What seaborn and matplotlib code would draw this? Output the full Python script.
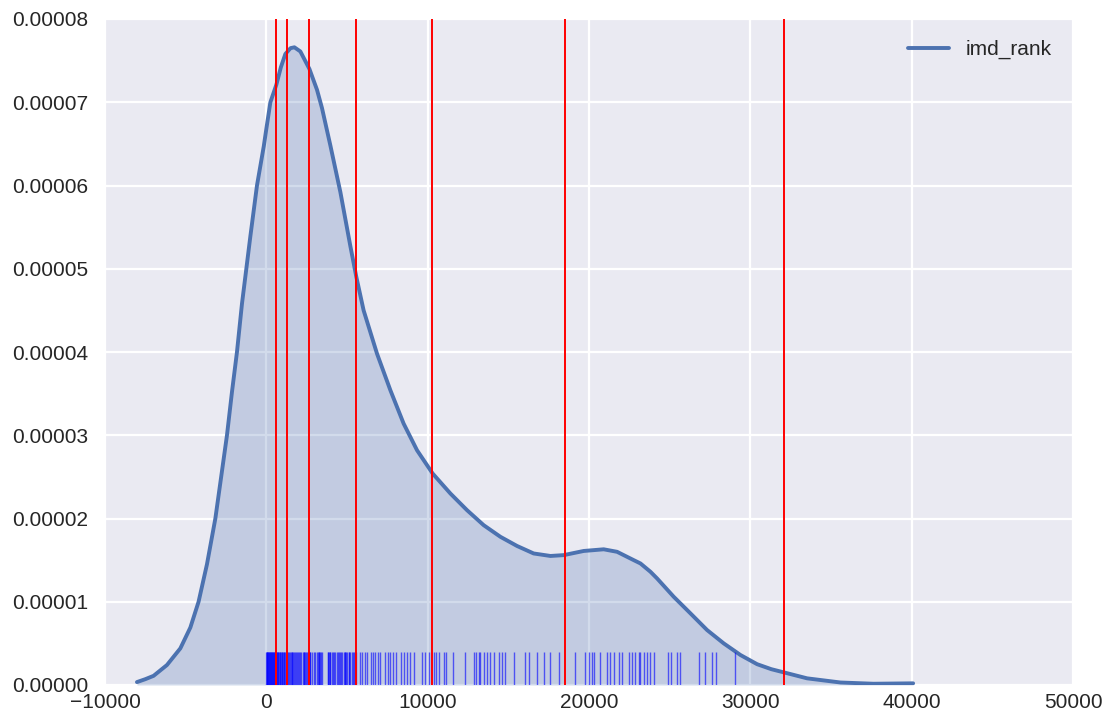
import numpy as np
import pandas as pd
import matplotlib
matplotlib.use("Agg")
import matplotlib.pyplot as plt
import seaborn as sns
from matplotlib.ticker import FormatStrFormatter

# KDE curve (x in rank units, density in units of 1e-5)
kde_x = [-8020, -7500, -6990, -6160, -5330, -4710, -4200, -3680, -3160, -2850,
         -2440, -2130, -1820, -1510, -1240, -990, -580, -160, 0, 250,
         620, 900, 1180, 1500, 1740, 2110, 2670, 3140, 3450, 3970,
         4590, 5210, 5580, 6030, 6860, 7690, 8510, 9340, 10310, 11410,
         12440, 13470, 14510, 15540, 16570, 17610, 18430, 19670, 20910, 21740,
         22770, 23190, 23810, 24220, 25250, 26290, 27320, 28350, 29390, 30420,
         31300, 32110, 33520, 35590, 37630, 40090]
kde_y_e5 = [0.035, 0.07, 0.11, 0.24, 0.44, 0.69, 1.00, 1.45, 2.00, 2.43,
            3.00, 3.52, 4.00, 4.58, 5.00, 5.39, 6.00, 6.47, 6.68, 7.00,
            7.21, 7.42, 7.58, 7.65, 7.66, 7.61, 7.40, 7.15, 6.93, 6.48,
            5.92, 5.27, 4.90, 4.50, 3.98, 3.54, 3.14, 2.82, 2.54, 2.30,
            2.10, 1.92, 1.78, 1.67, 1.58, 1.55, 1.56, 1.61, 1.63, 1.60,
            1.50, 1.46, 1.36, 1.28, 1.06, 0.86, 0.66, 0.50, 0.36, 0.25,
            0.19, 0.15, 0.08, 0.03, 0.015, 0.02]
kde_y = [v * 1e-5 for v in kde_y_e5]

rug_values = [10, 30, 50, 70, 95, 120, 150, 180, 210, 240, 270, 300, 330, 365, 400, 430,
              460, 495, 530, 560, 600, 640, 670, 710, 750, 790, 830, 870, 910, 950, 990,
              1030, 1080, 1120, 1160, 1210, 1250, 1300, 1350, 1400, 1450, 1500, 1560, 1610,
              1670, 1720, 1780, 1840, 1900, 1960, 2030, 2100, 2170,
              2250, 2310, 2360, 2400, 2470, 2520, 2580, 2620, 2680, 2730, 2830, 2930,
              3040, 3140, 3190, 3240, 3290, 3340, 3400, 3450,
              3800, 3840, 3880, 3930, 3970, 4050, 4130, 4200, 4280, 4350, 4420, 4500,
              4590, 4650, 4700, 4790, 4850, 4900, 4950, 5000, 5100, 5150, 5210, 5300,
              5350, 5410, 5500, 5580,
              5780, 5930, 6090, 6240, 6490, 6610, 6760, 6900, 7070,
              7380, 7520, 7690, 7850, 8040, 8350, 8560, 8720, 8890, 9180,
              9650, 9860, 10060, 10370, 10540, 10710, 10990, 11160, 11570,
              12340, 12850, 13020, 13170, 13270, 13470, 13680, 13890, 14100,
              14400, 14610, 14820, 15330, 16060, 16260, 16780, 17190, 17610, 18120,
              19160, 19780, 19980, 20190, 20290, 20710, 21120, 21330, 21530, 21840,
              22050, 22460, 22670, 22880, 23080, 23190, 23390, 23600, 23810, 24050,
              24880, 25090, 25460, 25670, 26800, 27160, 27630, 27900, 29030]

# Class break positions (red lines)
break_values = [620, 1300, 2670, 5580, 10290, 18540, 32110]

series_name = "imd_rank"
x_ticks = [-10000, 0, 10000, 20000, 30000, 40000, 50000]
y_ticks = [0.0, 0.00001, 0.00002, 0.00003, 0.00004, 0.00005, 0.00006, 0.00007, 0.00008]

sns.set_style("darkgrid", {"axes.facecolor": "#EAEAF2", "grid.color": "white"})
plt.rcParams["font.family"] = ["Liberation Sans", "DejaVu Sans"]

line_color = "#4C72B0"

fig = plt.figure(figsize=(11.07, 7.24), dpi=100)
ax = fig.add_axes([105 / 1107, 1 - 685 / 724, (1073 - 105) / 1107, (685 - 19) / 724])

df = pd.DataFrame({"x": kde_x, "density": kde_y})
ax.fill_between(df["x"], df["density"], color=line_color, alpha=0.25, lw=0)
sns.lineplot(data=df, x="x", y="density", ax=ax, color=line_color, lw=2.8,
             label=series_name, sort=False, estimator=None)
for l in ax.lines:
    l.set_solid_joinstyle("round")

sns.rugplot(x=rug_values, ax=ax, height=0.05, color="blue", alpha=0.6, lw=1.9)

for b in break_values:
    ax.axvline(b, color="red", lw=1.4)

ax.set_xlim(-10000, 50000)
ax.set_ylim(0, 0.00008)
ax.set_xticks(x_ticks)
ax.set_yticks(y_ticks)
ax.yaxis.set_major_formatter(FormatStrFormatter("%.5f"))
ax.set_xlabel("")
ax.set_ylabel("")
ax.grid(True, color="white", lw=1.6)
ax.tick_params(axis="both", labelsize=15, length=0, colors="#262626")
ax.tick_params(axis="x", pad=6)
ax.tick_params(axis="y", pad=12)
for s in ax.spines.values():
    s.set_visible(False)

leg = ax.legend(loc="upper right", frameon=False, fontsize=15, handlelength=2.0,
                borderaxespad=0.6)

fig.savefig("out.png", dpi=100)
